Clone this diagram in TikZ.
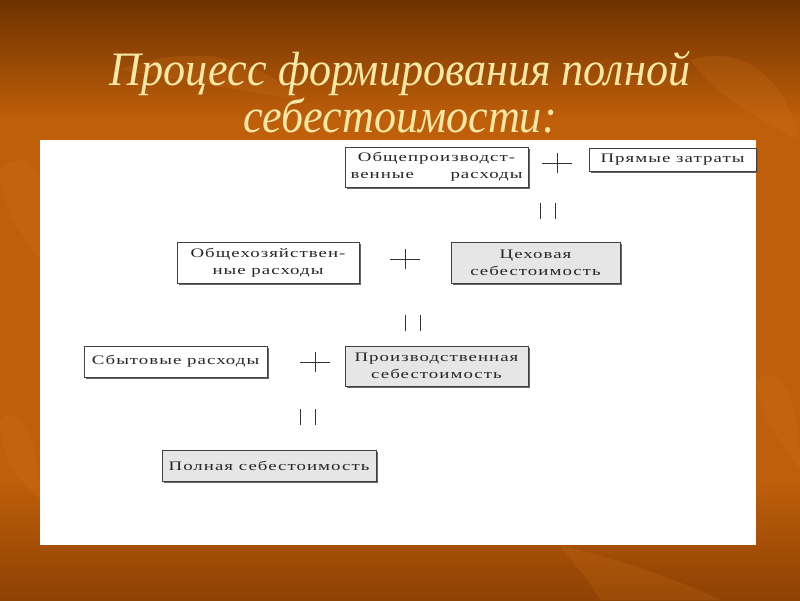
\documentclass[tikz,border=0pt]{standalone}
\usepackage{fontspec}
\setmainfont{Liberation Serif}
\newfontfamily\boxfont[FakeStretch=1.45,LetterSpace=8]{Liberation Serif}
\newfontfamily\titlefont{Liberation Serif}
\usetikzlibrary{shadows}
\definecolor{bgdark}{HTML}{6E3200}
\definecolor{bgmid}{HTML}{BF5F0A}
\definecolor{bgbot}{HTML}{8E4204}
\definecolor{leaf}{HTML}{D97A20}
\definecolor{titlecol}{HTML}{F6E8A6}
\definecolor{grayfill}{HTML}{E6E6E6}
\tikzset{
  boxbase/.style={draw=black!75, line width=0.6pt, inner sep=0pt, align=center,
    font=\boxfont\fontsize{13}{17}\selectfont, text=black!85,
    drop shadow={shadow xshift=1.6pt, shadow yshift=-1.6pt, fill=black!60, opacity=1}},
  whitebox/.style={boxbase, fill=white},
  graybox/.style={boxbase, fill=grayfill},
  opline/.style={draw=black!80, line width=0.8pt},
}
\begin{document}
\begin{tikzpicture}[x=1pt,y=-1pt]
\useasboundingbox (0,0) rectangle (800,600);
% background
\shade[top color=bgdark, bottom color=bgmid] (0,0) rectangle (800,120);
\fill[bgmid] (0,119) rectangle (800,480);
\shade[top color=bgmid, bottom color=bgbot] (0,479) rectangle (800,600);
% faint leaves
\begin{scope}[opacity=0.18]
\fill[leaf] (690,60) .. controls (760,40) and (790,100) .. (800,140) .. controls (760,120) and (720,100) .. (690,60);
\fill[leaf] (0,170) .. controls (30,140) and (60,180) .. (40,260) .. controls (20,230) and (0,210) .. (0,170);
\fill[leaf] (756,380) .. controls (790,360) and (800,420) .. (800,470) .. controls (780,440) and (760,420) .. (756,380);
\fill[leaf] (0,420) .. controls (20,400) and (40,440) .. (40,500) .. controls (20,480) and (0,460) .. (0,420);
\fill[leaf] (560,545) .. controls (620,560) and (680,580) .. (720,600) -- (600,600) .. controls (590,580) and (570,560) .. (560,545);
\fill[leaf] (120,70) .. controls (200,40) and (260,60) .. (300,100) .. controls (240,90) and (180,80) .. (120,70);
\end{scope}
% title
\node (title) [text=titlecol, font=\titlefont\itshape\fontsize{48}{47}\selectfont, align=center,
  xscale=0.92, transform shape] at (400,92)
  {Процесс формирования полной\\себестоимости:};
% white panel
\fill[white] (40,140) rectangle (756,545);
% boxes
\node (opr) [whitebox, minimum width=183pt, minimum height=40pt] at (436.5,167)
  {\parbox{172pt}{\centering Общепроизводст-\\венные\hfill расходы}};
\node (pz) [whitebox, minimum width=167pt, minimum height=23pt] at (672.5,159.5) {Прямые затраты};
\node (ohr) [whitebox, minimum width=182pt, minimum height=41pt] at (268,262.5) {Общехозяйствен-\\ные расходы};
\node (cs) [graybox, minimum width=169pt, minimum height=41pt] at (535.5,262.5) {Цеховая\\себестоимость};
\node (sr) [whitebox, minimum width=183pt, minimum height=31pt] at (175.5,361.5) {Сбытовые расходы};
\node (ps) [graybox, minimum width=183pt, minimum height=40pt] at (436.5,366) {Производственная\\себестоимость};
\node (full) [graybox, minimum width=214pt, minimum height=31pt] at (269,465.5) {Полная себестоимость};
% plus signs
\coordinate (p1) at (557,163);
\coordinate (p2) at (405,259);
\coordinate (p3) at (315,362);
\foreach \p in {p1,p2,p3}{
  \draw[opline] ([xshift=-15pt]\p) -- ([xshift=15pt]\p);
  \draw[opline] ([yshift=-10pt]\p) -- ([yshift=10pt]\p);
}
% equals (vertical pairs)
\coordinate (e1) at (548,211);
\coordinate (e2) at (412.5,323);
\coordinate (e3) at (307.5,417);
\foreach \e in {e1,e2,e3}{
  \draw[opline] ([xshift=-7.5pt,yshift=-8pt]\e) -- ([xshift=-7.5pt,yshift=8pt]\e);
  \draw[opline] ([xshift=7.5pt,yshift=-8pt]\e) -- ([xshift=7.5pt,yshift=8pt]\e);
}
\end{tikzpicture}
\end{document}
